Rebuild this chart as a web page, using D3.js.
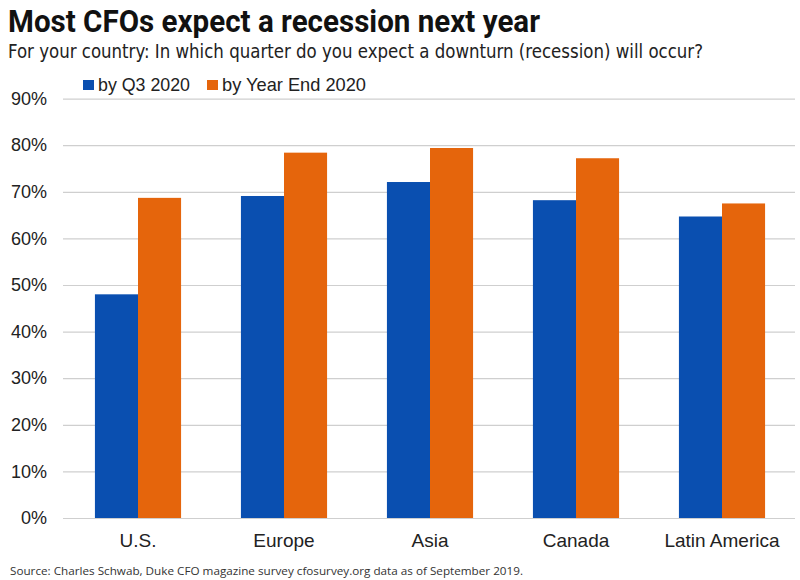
<!DOCTYPE html>
<html><head><meta charset="utf-8">
<script src="https://cdn.jsdelivr.net/npm/d3@7"></script>
<style>body{margin:0;background:#fff}svg{display:block}</style>
</head><body>
<svg id="c" width="800" height="580"></svg>
<script>
const categories = ["U.S.", "Europe", "Asia", "Canada", "Latin America"];
const seriesNames = ["by Q3 2020", "by Year End 2020"];
const q3Values = [48.0, 69.1, 72.1, 68.2, 64.7];
const yearEndValues = [68.7, 78.4, 79.4, 77.2, 67.5];
const yTicks = [0, 10, 20, 30, 40, 50, 60, 70, 80, 90];
const colors = ["#0a4fb0", "#e5650c"];

const svg = d3.select("#c");
const W = 800, H = 580;
svg.append("rect").attr("width", W).attr("height", H).attr("fill", "#fff");

const y = d3.scaleLinear().domain([0, 90]).range([518, 98.6]);
const x0 = d3.scaleBand().domain(categories).range([65, 795]).paddingInner(0.41).paddingOuter(0.205);
const x1 = d3.scaleBand().domain(seriesNames).range([0, x0.bandwidth()]);

const condensed = "'Liberation Sans Narrow','DejaVu Sans Condensed','Roboto',sans-serif";
const helv = "'Liberation Sans', Arial, Helvetica, sans-serif";

// title
svg.append("text").attr("x", 8).attr("y", 32).text("Most CFOs expect a recession next year")
  .attr("font-family", "Roboto, 'Liberation Sans', sans-serif").attr("font-weight", "bold")
  .attr("font-size", 31).attr("fill", "#111")
  .attr("textLength", 532).attr("lengthAdjust", "spacingAndGlyphs");
svg.append("text").attr("x", 8).attr("y", 58).text("For your country: In which quarter do you expect a downturn (recession) will occur?")
  .attr("font-family", condensed).attr("font-size", 19).attr("fill", "#222")
  .attr("textLength", 695).attr("lengthAdjust", "spacingAndGlyphs");

// gridlines
const grid = svg.append("g").attr("class", "grid")
  .call(d3.axisLeft(y).tickValues(yTicks).tickSize(-(795 - 63)).tickFormat(""));
grid.attr("transform", "translate(63,0)");
grid.select(".domain").remove();
grid.selectAll("line").attr("stroke", "#cfcfcf").attr("stroke-width", 1.2);

// y labels
const yAxis = svg.append("g").attr("transform", "translate(47,0)")
  .call(d3.axisLeft(y).tickValues(yTicks).tickSize(0).tickPadding(0).tickFormat(d => d + "%"));
yAxis.select(".domain").remove();
yAxis.selectAll("text").attr("font-family", helv)
  .attr("font-size", 18).attr("fill", "#222");

// bars
const data = categories.map((c, i) => ({cat: c, vals: [q3Values[i], yearEndValues[i]]}));
const groups = svg.append("g").selectAll("g").data(data).join("g")
  .attr("transform", d => `translate(${x0(d.cat)},0)`);
groups.selectAll("rect").data(d => d.vals.map((v, j) => ({name: seriesNames[j], v, j})))
  .join("rect")
  .attr("x", d => x1(d.name)).attr("width", x1.bandwidth())
  .attr("y", d => y(d.v)).attr("height", d => y(0) - y(d.v))
  .attr("fill", d => colors[d.j]);

// x labels
const xAxis = svg.append("g").attr("transform", "translate(0,518)")
  .call(d3.axisBottom(x0).tickSize(0).tickPadding(16));
xAxis.select(".domain").remove();
xAxis.selectAll("text").attr("font-family", helv).attr("font-size", 19).attr("fill", "#222");

// legend
const leg = svg.append("g");
const legX = [83, 207];
const legLen = [92, 144];
seriesNames.forEach((n, i) => {
  leg.append("rect").attr("x", legX[i]).attr("y", 80).attr("width", 11).attr("height", 10).attr("fill", colors[i]);
  leg.append("text").attr("x", legX[i] + 15).attr("y", 91).text(n)
    .attr("font-family", helv).attr("font-size", 19).attr("fill", "#222")
    .attr("textLength", legLen[i]).attr("lengthAdjust", "spacingAndGlyphs");
});

// source
svg.append("text").attr("x", 10).attr("y", 575)
  .text("Source: Charles Schwab, Duke CFO magazine  survey  cfosurvey.org data as of September  2019.")
  .attr("font-family", "'Open Sans', 'Liberation Sans', sans-serif").attr("font-size", 10.5).attr("fill", "#333")
  .attr("textLength", 513).attr("lengthAdjust", "spacingAndGlyphs");
</script>
</body></html>
